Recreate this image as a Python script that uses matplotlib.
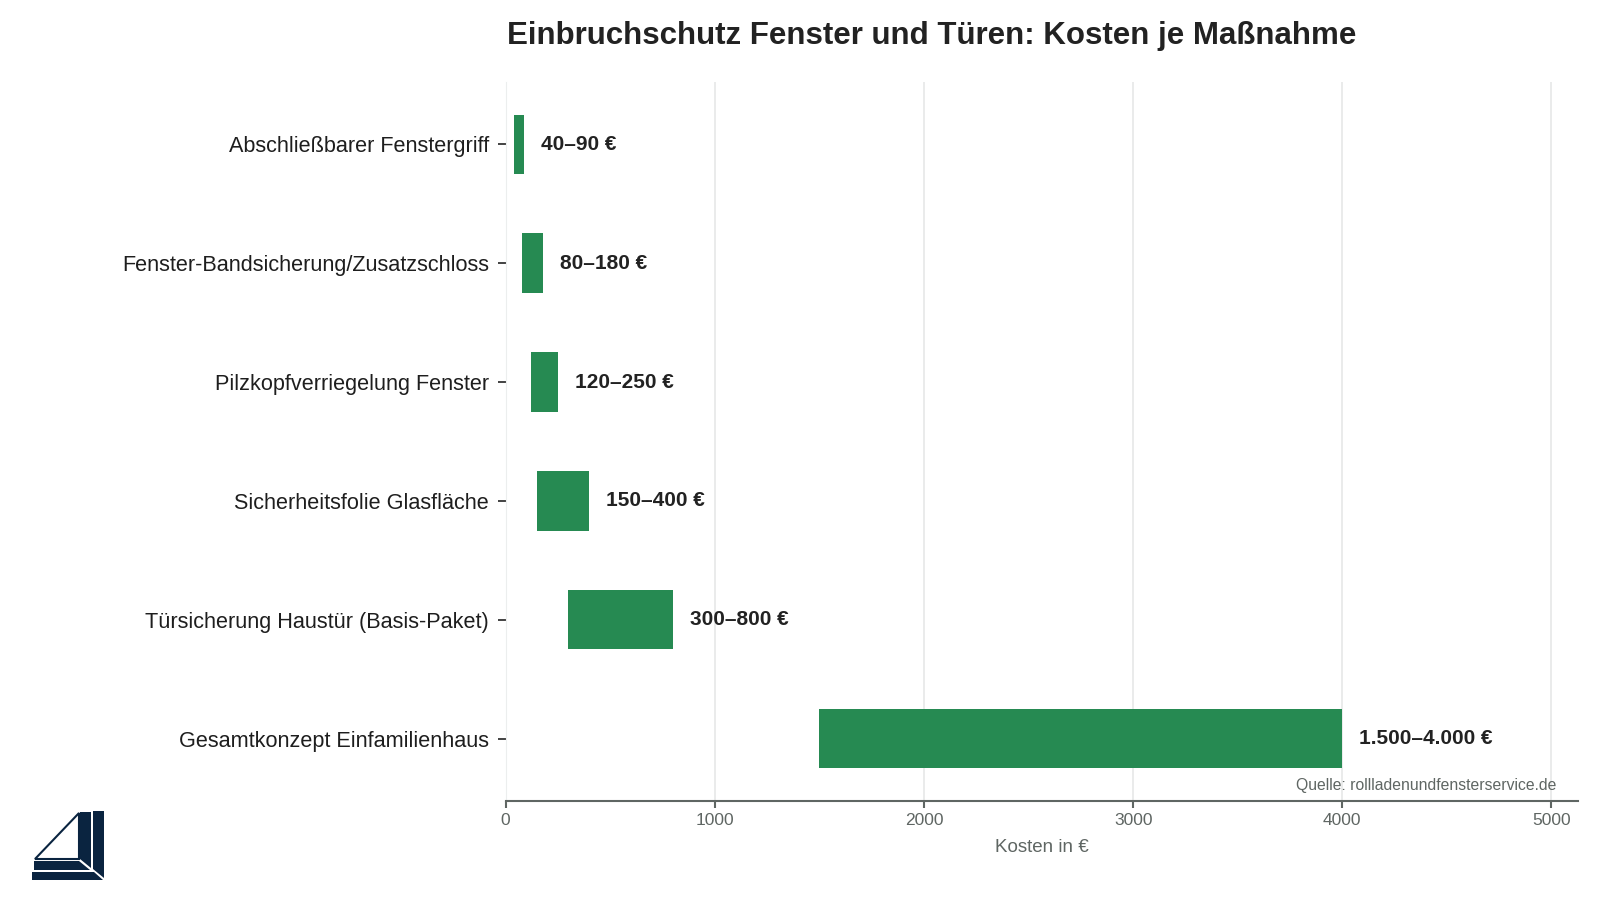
import matplotlib
matplotlib.use('Agg')
import matplotlib.pyplot as plt
from matplotlib.patches import Polygon

plt.rcParams['font.family'] = ['Liberation Sans', 'DejaVu Sans']

massnahmen = ['Abschließbarer Fenstergriff', 'Fenster-Bandsicherung/Zusatzschloss',
              'Pilzkopfverriegelung Fenster', 'Sicherheitsfolie Glasfläche',
              'Türsicherung Haustür (Basis-Paket)', 'Gesamtkonzept Einfamilienhaus']
kosten_min = [40, 80, 120, 150, 300, 1500]
kosten_max = [90, 180, 250, 400, 800, 4000]
labels = ['40–90 €', '80–180 €', '120–250 €', '150–400 €', '300–800 €', '1.500–4.000 €']
xticks = [0, 1000, 2000, 3000, 4000, 5000]

green = '#268a52'
grey = '#5f6663'

fig = plt.figure(figsize=(16, 9), dpi=100)
ax = fig.add_axes([0.316, 0.11, 0.670, 0.799])

y = list(range(len(massnahmen)))
widths = [b - a for a, b in zip(kosten_min, kosten_max)]
ax.barh(y, widths, left=kosten_min, height=0.5, color=green, zorder=3)
for yi, x_end, lab in zip(y, kosten_max, labels):
    ax.annotate(lab, (x_end, yi), xytext=(12, 0), textcoords='offset points',
                va='center', ha='left', fontsize=15, fontweight='bold', color='#222222')

ax.set_yticks(y)
ax.set_yticklabels(massnahmen, fontsize=15.6, color='#1e1e1e')
ax.invert_yaxis()
ax.set_xlim(0, 5125)
ax.set_xticks(xticks)
ax.tick_params(axis='x', labelsize=12.5, colors=grey, length=5, width=1.5)
ax.tick_params(axis='y', length=6, width=1.2, color='#222222', pad=6)
ax.grid(axis='x', color='#e6e8e8', linewidth=1.2, zorder=0)
ax.set_axisbelow(True)
for s in ['top', 'right']:
    ax.spines[s].set_visible(False)
ax.spines['left'].set_color('#eceeee')
ax.spines['bottom'].set_color(grey)
ax.spines['bottom'].set_linewidth(1.5)
ax.set_xlabel('Kosten in €', fontsize=13.5, color=grey, labelpad=8)

ax.text(0.98, 0.022, 'Quelle: rollladenundfensterservice.de', transform=ax.transAxes,
        ha='right', va='center', fontsize=11.3, color=grey)

fig.text(0.582, 0.96, 'Einbruchschutz Fenster und Türen: Kosten je Maßnahme',
         ha='center', va='center', fontsize=22.5, fontweight='bold', color='#222222')

# logo
lax = fig.add_axes([30 / 1600, 18 / 900, 78 / 1600, 72 / 900])
lax.set_xlim(30, 108)
lax.set_ylim(882, 810)
lax.axis('off')
navy = '#0a2440'
shapes = [
    [(32, 872), (94, 872), (103, 880), (32, 880)],
    [(93, 811), (104, 811), (104, 878), (93, 869)],
    [(34, 861), (79, 861), (90, 870), (34, 870)],
    [(80, 812), (91, 812), (91, 868), (80, 859)],
]
for pts in shapes:
    lax.add_patch(Polygon(pts, closed=True, facecolor=navy, edgecolor='none'))
lax.add_patch(Polygon([(35, 859), (79, 813), (79, 859)], closed=True,
                      facecolor='none', edgecolor=navy, linewidth=1.5))

fig.savefig('out.png', dpi=100)
